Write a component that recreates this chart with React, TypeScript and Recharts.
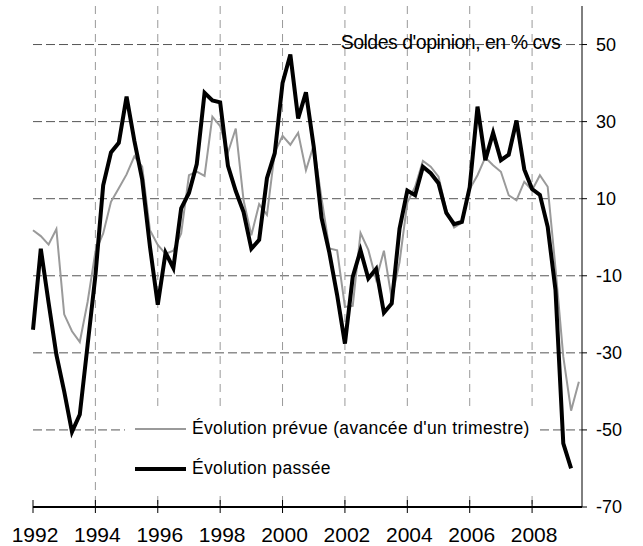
import React from 'react';
import { LineChart, Line, XAxis, YAxis, CartesianGrid, Legend } from 'recharts';

// ---------- data ----------
const START_YEAR = 1992; // first quarter of the series (1992 T1)
const QUARTERS_PER_YEAR = 4;

// Évolution prévue (avancée d'un trimestre), quarterly, 1992 T1 -> 2009 T3
const PREVUE = [
  1.8, 0.3, -1.9, 2.1, -20, -24.4, -27.2, -16.8,
  -3.8, 1, 9.2, 12.7, 16.3, 21, 18.3, 1.8,
  -2, -4.3, -3.5, 1, 16.1, 17, 15.9, 31.3,
  28.8, 22, 28.2, 9.6, 0.5, 8.6, 5.8, 22,
  26.3, 24, 27.1, 17.4, 23.9, 10.1, -2.9, -3.4,
  -18.1, -17.8, 1.1, -3.3, -11, -3.5, -16, -6.5,
  9, 13.1, 19.8, 18.3, 15.7, 7, 2.5, 3.8,
  12.5, 16.1, 20.7, 18.7, 17, 10.9, 9.6, 14.4,
  12.2, 16.1, 13.1, -8, -31, -45, -37.5,
];

// Évolution passée, quarterly, 1992 T1 -> 2009 T2
const PASSEE = [
  -24, -3, -17, -30.5, -40, -50.5, -46, -28,
  -10, 13.5, 22, 24.5, 36.5, 25, 15, -2.5,
  -17.5, -4, -8, 7.5, 11.5, 19, 37.5, 35.5,
  35, 18.5, 12, 6.5, -3, -0.7, 15.3, 21.8,
  40, 47.4, 30.8, 37.6, 23.5, 5, -4, -15,
  -27.6, -10.3, -3.4, -10.7, -8.2, -19.6, -17.2, 2.2,
  12.1, 10.9, 18.3, 16.6, 14, 6.3, 3.4, 4,
  13, 33.9, 20, 27.1, 20, 21.4, 30.3, 17.6,
  12.5, 11, 2.7, -13.7, -53.5, -60,
];

const X_TICKS = [1992, 1994, 1996, 1998, 2000, 2002, 2004, 2006, 2008];
const V_GRID = [1994, 1996, 1998, 2000, 2002, 2004, 2006, 2008];
const Y_TICKS = [-70, -50, -30, -10, 10, 30, 50];
const H_GRID = [-50, -30, -10, 10, 30, 50];
const X_DOMAIN = [1992, 2009.6];
const Y_DOMAIN = [-70, 60];

const TITLE = "Soldes d'opinion, en % cvs";
const NAME_PREVUE = "Évolution prévue (avancée d'un trimestre)";
const NAME_PASSEE = 'Évolution passée';
const SERIES_ORDER = ['prevue', 'passee'];

const data = PREVUE.map((v, i) => ({
  t: START_YEAR + i / QUARTERS_PER_YEAR,
  prevue: v,
  passee: i < PASSEE.length ? PASSEE[i] : null,
}));

// ---------- styling ----------
const W = 643;
const H = 546;
const FONT = '"Liberation Sans", Arial, Helvetica, sans-serif';
const X_TICK_SIZE = 6;
const X_TICK_MARGIN = 15;

// tick label plus the inner half of the cross tick mark
const XTick = (props: any) => {
  const { x, y, payload } = props;
  const axisY = y - X_TICK_SIZE - X_TICK_MARGIN;
  return (
    <g>
      <line x1={x} x2={x} y1={axisY - 7} y2={axisY} stroke="#000" strokeWidth={1} />
      <text x={x + 2} y={y} dy={13.5} textAnchor="middle" fontSize={21} fill="#000">
        {payload.value}
      </text>
    </g>
  );
};

const LegendContent = (props: any) => {
  const items = [...(props.payload || [])].sort(
    (a: any, b: any) => SERIES_ORDER.indexOf(a.dataKey) - SERIES_ORDER.indexOf(b.dataKey)
  );
  return (
    <div style={{ width: 415, height: 83, background: '#fff' }}>
      <svg width={415} height={83} style={{ display: 'block' }}>
        {items.map((it: any, i: number) => (
          <g key={i}>
            <line
              x1={10}
              x2={61}
              y1={22 + i * 40}
              y2={22 + i * 40}
              stroke={it.color}
              strokeWidth={it.payload && it.payload.strokeWidth ? it.payload.strokeWidth : 2}
            />
            <text x={67} y={26.5 + i * 40} fontSize={17.5} letterSpacing={0.35} fill="#000">
              {it.value}
            </text>
          </g>
        ))}
      </svg>
    </div>
  );
};

export default function App() {
  return (
    <div style={{ position: 'absolute', left: 0, top: 0, width: W, height: H, fontFamily: FONT, background: '#fff' }}>
      <LineChart width={W} height={H} data={data} margin={{ top: 6, right: 0, bottom: 0, left: 33 }}>
        <CartesianGrid vertical={false} horizontalValues={H_GRID} stroke="#555" strokeDasharray="9 4" />
        <CartesianGrid horizontal={false} verticalValues={V_GRID} stroke="#999" strokeDasharray="8 6" />
        <XAxis
          dataKey="t"
          type="number"
          domain={X_DOMAIN}
          ticks={X_TICKS}
          interval={0}
          height={39}
          tickSize={X_TICK_SIZE}
          tickMargin={X_TICK_MARGIN}
          tickLine={{ stroke: '#000' }}
          tick={<XTick />}
          axisLine={{ stroke: '#000', strokeWidth: 2 }}
        />
        <XAxis
          xAxisId="frameTop"
          orientation="top"
          dataKey="t"
          type="number"
          domain={X_DOMAIN}
          height={0}
          tick={false}
          tickLine={false}
          axisLine={{ stroke: '#333', strokeWidth: 1 }}
        />
        <YAxis
          orientation="right"
          type="number"
          domain={Y_DOMAIN}
          ticks={Y_TICKS}
          interval={0}
          width={61}
          tickSize={5}
          tickMargin={9}
          tick={{ fontSize: 18, fill: '#000' }}
          tickLine={{ stroke: '#000' }}
          axisLine={{ stroke: '#000', strokeWidth: 1 }}
        />
        <YAxis
          yAxisId="frameLeft"
          orientation="left"
          type="number"
          domain={Y_DOMAIN}
          width={0}
          tick={false}
          tickLine={false}
          axisLine={{ stroke: '#222', strokeWidth: 1 }}
        />
        <Line
          type="linear"
          dataKey="prevue"
          name={NAME_PREVUE}
          stroke="#9a9a9a"
          strokeWidth={2}
          dot={false}
          activeDot={false}
          isAnimationActive={false}
        />
        <Line
          type="linear"
          dataKey="passee"
          name={NAME_PASSEE}
          stroke="#000"
          strokeWidth={4}
          dot={false}
          activeDot={false}
          connectNulls={false}
          isAnimationActive={false}
        />
        <Legend
          layout="vertical"
          align="center"
          verticalAlign="middle"
          content={<LegendContent />}
          wrapperStyle={{ left: 125, top: 407, width: 415, height: 83, margin: 0, padding: 0 }}
        />
      </LineChart>
      <div
        style={{
          position: 'absolute',
          left: 340.7,
          top: 31.5,
          fontSize: 19.5,
          letterSpacing: -0.5,
          lineHeight: '20px',
          whiteSpace: 'nowrap',
          color: '#000',
        }}
      >
        {TITLE}
      </div>
    </div>
  );
}
